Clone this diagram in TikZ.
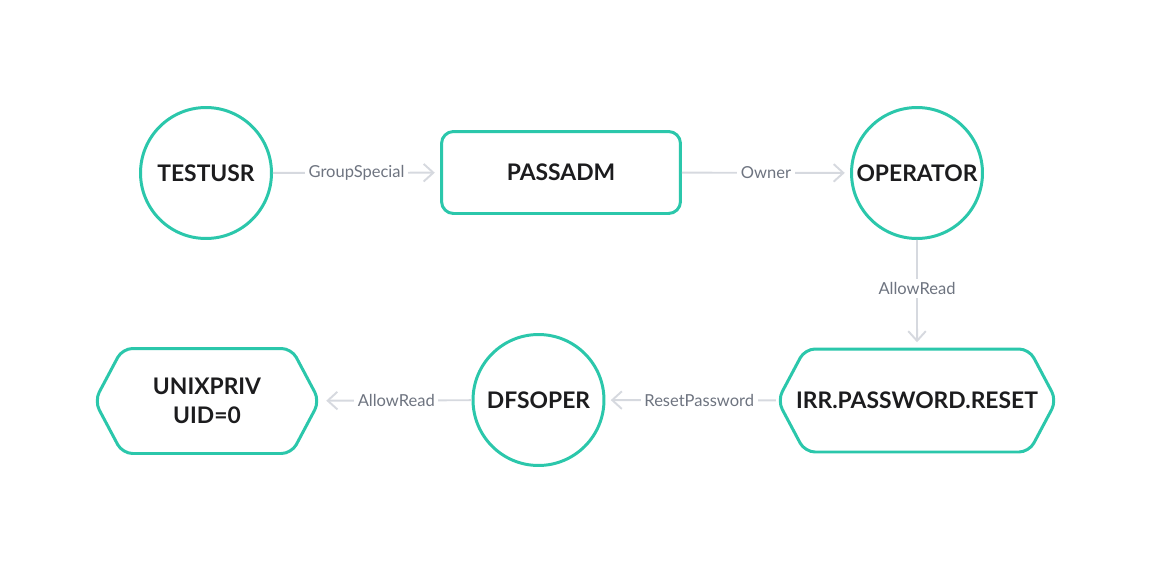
\documentclass[tikz,border=0pt]{standalone}
\usepackage{fontspec}
\setmainfont{Lato}
\usetikzlibrary{arrows.meta,shapes.symbols}

\definecolor{nodeteal}{RGB}{43,199,171}
\definecolor{nodetext}{RGB}{28,28,30}
\definecolor{linkgray}{RGB}{214,217,223}
\definecolor{labelgray}{RGB}{110,116,128}

\begin{document}
\begin{tikzpicture}[x=0.02cm,y=-0.02cm,
    entity/.style={circle,draw=nodeteal,line width=1.7pt,fill=white,minimum size=2.62cm,inner sep=0pt,
        text=nodetext,font=\bfseries\fontsize{13}{16.5}\selectfont},
    group/.style={entity,rectangle,rounded corners=0.24cm,minimum width=4.78cm,minimum height=1.64cm},
    resource/.style={entity,signal,signal to=east and west,signal pointer angle=124,rounded corners=0.2cm,
        inner xsep=-0.2cm,minimum height=2.06cm,align=center},
    link/.style={draw=linkgray,line width=1.1pt,-{Straight Barb[length=5.5pt,width=10pt,line width=1.1pt]},shorten >=3pt},
    edgelabel/.style={fill=white,inner sep=2pt,text=labelgray,font=\fontsize{9.4}{11}\selectfont}]
    \useasboundingbox (0,0) rectangle (1156,575);
    % top row
    \node[entity] (testusr) at (206,173) {TESTUSR};
    \node[group] (passadm) at (561,172.5) {PASSADM};
    \node[entity] (operator) at (917,173) {OPERATOR};
    % bottom row
    \node[resource,minimum width=5.58cm] (irr) at (917,400.5) {IRR.PASSWORD.RESET};
    \node[entity] (dfsoper) at (538.5,400) {DFSOPER};
    \node[resource,minimum width=4.5cm,minimum height=2.1cm] (unixpriv) at (207,401) {UNIXPRIV\\UID=0};
    % connectors
    \draw[link] (testusr) -- node[edgelabel] {GroupSpecial} (passadm);
    \draw[link] (passadm) -- node[edgelabel] {Owner} (operator);
    \draw[link] (operator) -- node[edgelabel,pos=0.45] {AllowRead} (irr);
    \draw[link] (irr) -- node[edgelabel,pos=0.45] {ResetPassword} (dfsoper);
    \draw[link] (dfsoper) -- node[edgelabel] {AllowRead} (unixpriv);
\end{tikzpicture}
\end{document}
